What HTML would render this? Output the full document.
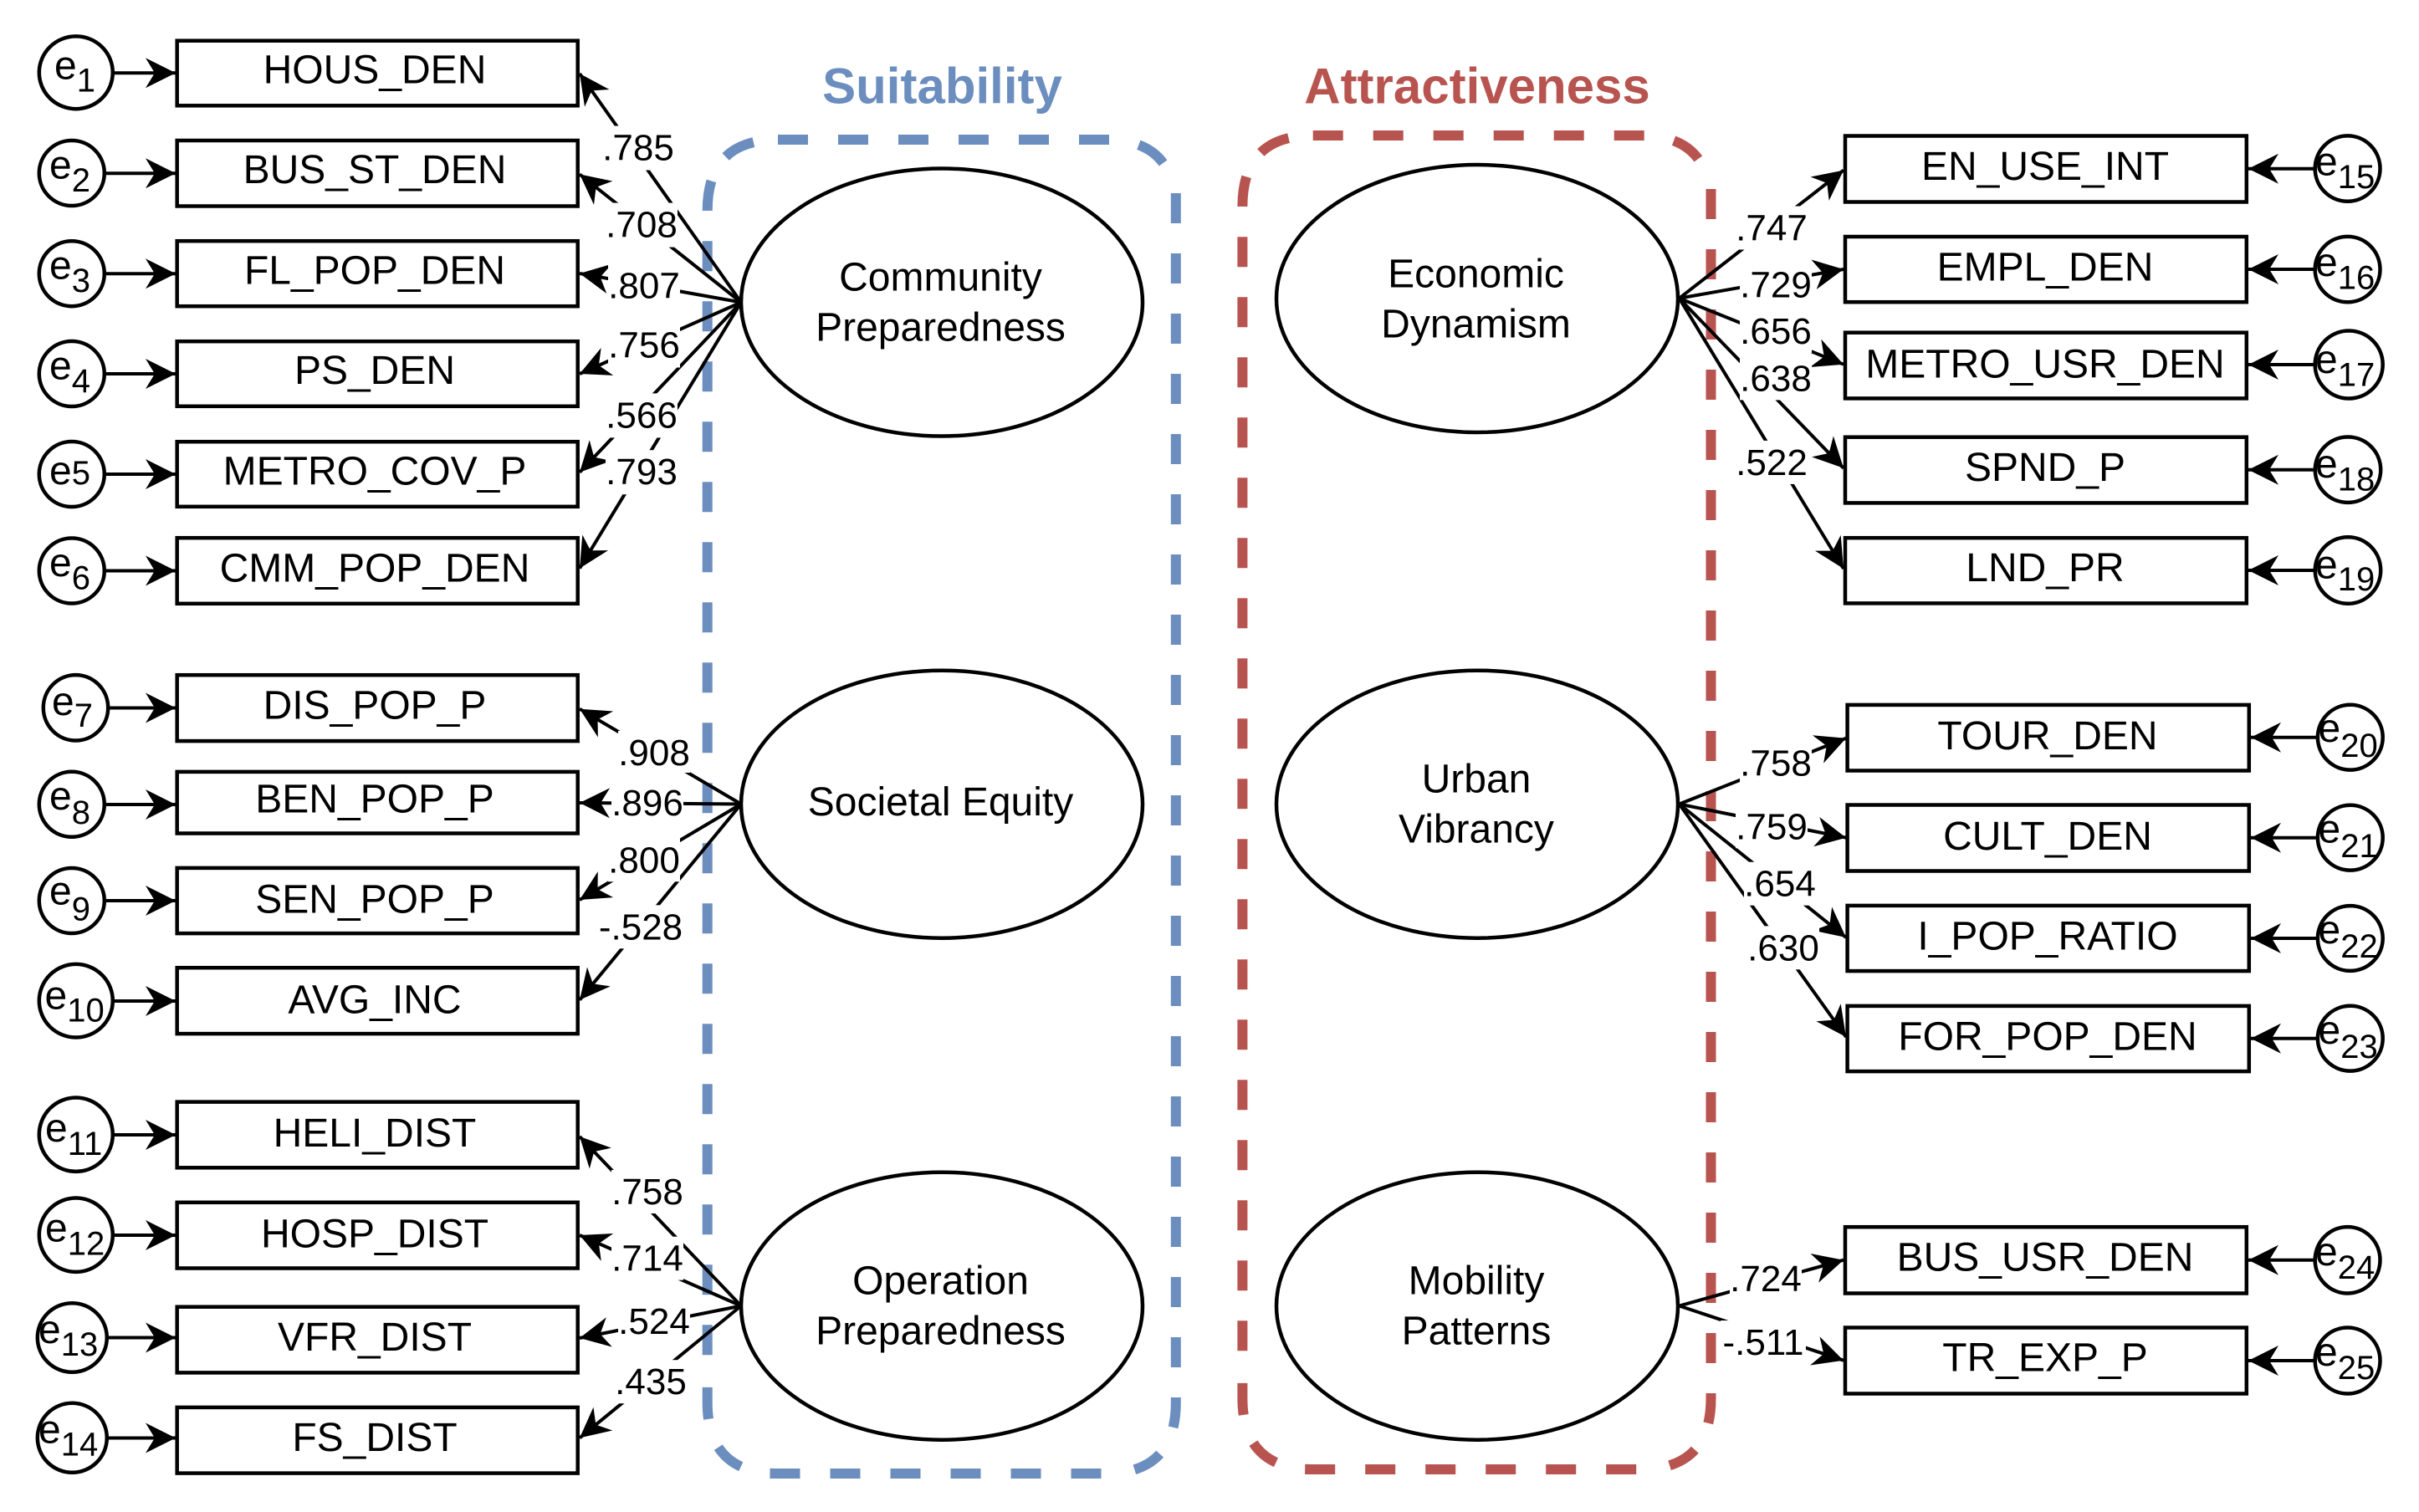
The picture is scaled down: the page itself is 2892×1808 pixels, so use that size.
<!DOCTYPE html>
<html lang="en">
<head>
<meta charset="utf-8">
<title>Suitability and Attractiveness SEM diagram</title>
<style>
html,body{margin:0;padding:0;background:#fff}
svg{display:block}
text{font-family:"Liberation Sans",Arial,sans-serif;fill:#000}
.b{font-size:48px;text-anchor:middle}
.l{font-size:44px;text-anchor:middle}
.e{font-size:48px}
.s{font-size:40px}
.r{fill:#fff;stroke:#000;stroke-width:4.5}
.c{fill:#fff;stroke:#000;stroke-width:4.5}
.ln line{stroke:#000;stroke-width:4;marker-end:url(#a)}
.bg rect{fill:#fff}
</style>
</head>
<body>
<svg xmlns="http://www.w3.org/2000/svg" width="2892" height="1808" viewBox="0 0 2892 1808">
<defs>
<marker id="a" markerUnits="userSpaceOnUse" markerWidth="40" markerHeight="40" refX="37" refY="20" orient="auto"><path d="M1 2 L37 20 L1 38 L12 20z" fill="#000"/></marker>
<g id="frame" fill="none" stroke-width="12">
<path d="M845.7 252 Q845.7 167 930 167" stroke-dasharray="36 34 38 200"/>
<path d="M930 167 H1326" stroke-dasharray="36 36"/>
<path d="M1322 167 Q1405.8 167 1405.8 252" stroke-dasharray="0 40 37 200"/>
<path d="M1405.8 231 V1636" stroke-dasharray="36 36"/>
<path d="M1405.8 1671 V1677 Q1405.8 1762 1321 1762" stroke-dasharray="36 36 36 200"/>
<path d="M1316.5 1762 H920" stroke-dasharray="36 36"/>
<path d="M930.7 1762 Q845.7 1762 845.7 1677 V1656" stroke-dasharray="10 36 36 36 38 100"/>
<path d="M845.7 1620.3 V288" stroke-dasharray="36 36"/>
</g>
</defs>

<use href="#frame" stroke="#6c8ebf"/>
<use href="#frame" stroke="#b85450" transform="translate(639.7 -5)"/>

<text x="1126.5" y="123.5" font-size="60" font-weight="bold" text-anchor="middle" style="fill:#6c8ebf">Suitability</text>
<text x="1766" y="123.3" font-size="60" font-weight="bold" text-anchor="middle" style="fill:#b85450">Attractiveness</text>

<!-- left boxes -->
<g>
<rect class="r" x="211.7" y="48.7" width="479" height="77.6"/>
<rect class="r" x="211.7" y="168" width="479" height="78.5"/>
<rect class="r" x="211.7" y="288.2" width="479" height="78"/>
<rect class="r" x="211.7" y="408.2" width="479" height="77.6"/>
<rect class="r" x="211.7" y="528.2" width="479" height="77.6"/>
<rect class="r" x="211.7" y="643.2" width="479" height="78.6"/>
<rect class="r" x="211.7" y="807.2" width="479" height="78.9"/>
<rect class="r" x="211.7" y="922.9" width="479" height="73.6"/>
<rect class="r" x="211.7" y="1037.9" width="479" height="78.2"/>
<rect class="r" x="211.7" y="1157.2" width="479" height="78.9"/>
<rect class="r" x="211.7" y="1317.6" width="479" height="78.7"/>
<rect class="r" x="211.7" y="1437.8" width="479" height="78.7"/>
<rect class="r" x="211.7" y="1562.7" width="479" height="78.7"/>
<rect class="r" x="211.7" y="1682.9" width="479" height="78.7"/>
</g>
<!-- right boxes -->
<g>
<rect class="r" x="2216" y="162.5" width="0" height="0"/>
<rect class="r" x="2206" y="162.5" width="479.8" height="79"/>
<rect class="r" x="2206" y="283" width="479.8" height="78.2"/>
<rect class="r" x="2206" y="397.7" width="479.8" height="78.7"/>
<rect class="r" x="2206" y="522.7" width="479.8" height="78.7"/>
<rect class="r" x="2206" y="643.2" width="479.8" height="78.2"/>
<rect class="r" x="2208.6" y="842.9" width="480.2" height="78.6"/>
<rect class="r" x="2208.6" y="962.5" width="480.2" height="79"/>
<rect class="r" x="2208.6" y="1082.9" width="480.2" height="78.2"/>
<rect class="r" x="2208.6" y="1202.9" width="480.2" height="78.2"/>
<rect class="r" x="2206" y="1467.2" width="479.8" height="79.3"/>
<rect class="r" x="2206" y="1587.5" width="479.8" height="79"/>
</g>

<!-- error circles -->
<g>
<ellipse class="c" cx="90.8" cy="86.8" rx="44" ry="43.4"/>
<ellipse class="c" cx="85.8" cy="207" rx="39" ry="39"/>
<ellipse class="c" cx="85.8" cy="327.2" rx="39" ry="39"/>
<ellipse class="c" cx="85.8" cy="447" rx="39" ry="39"/>
<ellipse class="c" cx="85.8" cy="567" rx="39" ry="39"/>
<ellipse class="c" cx="85.8" cy="682.5" rx="39" ry="39"/>
<ellipse class="c" cx="90.5" cy="846.3" rx="38.7" ry="39.2"/>
<ellipse class="c" cx="85.8" cy="961.8" rx="39" ry="39"/>
<ellipse class="c" cx="85.8" cy="1077" rx="39" ry="39"/>
<ellipse class="c" cx="90.8" cy="1196.7" rx="44" ry="43.8"/>
<ellipse class="c" cx="90.8" cy="1356.7" rx="44" ry="44.2"/>
<ellipse class="c" cx="90.8" cy="1476.7" rx="44" ry="44.2"/>
<ellipse class="c" cx="86.3" cy="1599.5" rx="41.5" ry="41.3"/>
<ellipse class="c" cx="86.3" cy="1719.3" rx="41.5" ry="41.5"/>
<ellipse class="c" cx="2806.6" cy="201.6" rx="38.9" ry="39.2"/>
<ellipse class="c" cx="2806.6" cy="322.1" rx="38.9" ry="39.2"/>
<ellipse class="c" cx="2808.2" cy="436" rx="40.5" ry="40.5"/>
<ellipse class="c" cx="2807" cy="561.7" rx="39.2" ry="39.2"/>
<ellipse class="c" cx="2807" cy="682" rx="39.2" ry="39.8"/>
<ellipse class="c" cx="2809.8" cy="881.7" rx="38.9" ry="38.9"/>
<ellipse class="c" cx="2809.8" cy="1001.7" rx="38.9" ry="38.9"/>
<ellipse class="c" cx="2809.8" cy="1122" rx="38.9" ry="38.9"/>
<ellipse class="c" cx="2809.8" cy="1241.7" rx="38.9" ry="38.9"/>
<ellipse class="c" cx="2806.6" cy="1506.8" rx="38.9" ry="39.7"/>
<ellipse class="c" cx="2806.6" cy="1627" rx="38.9" ry="39.5"/>
</g>

<!-- arrows -->
<g class="ln">
<line x1="137" y1="87.3" x2="210" y2="87.3"/>
<line x1="127" y1="207.3" x2="210" y2="207.3"/>
<line x1="127" y1="327.3" x2="210" y2="327.3"/>
<line x1="127" y1="447" x2="210" y2="447"/>
<line x1="127" y1="567" x2="210" y2="567"/>
<line x1="127" y1="682.5" x2="210" y2="682.5"/>
<line x1="131" y1="846.5" x2="210" y2="846.5"/>
<line x1="127" y1="962" x2="210" y2="962"/>
<line x1="127" y1="1077" x2="210" y2="1077"/>
<line x1="137" y1="1197" x2="210" y2="1197"/>
<line x1="137" y1="1357" x2="210" y2="1357"/>
<line x1="137" y1="1477" x2="210" y2="1477"/>
<line x1="130" y1="1599.5" x2="210" y2="1599.5"/>
<line x1="130" y1="1719.5" x2="210" y2="1719.5"/>

<line x1="2766" y1="201.8" x2="2688" y2="201.8"/>
<line x1="2766" y1="322" x2="2688" y2="322"/>
<line x1="2766" y1="436" x2="2688" y2="436"/>
<line x1="2766" y1="561.7" x2="2688" y2="561.7"/>
<line x1="2766" y1="682" x2="2688" y2="682"/>
<line x1="2769" y1="881.7" x2="2691" y2="881.7"/>
<line x1="2769" y1="1001.7" x2="2691" y2="1001.7"/>
<line x1="2769" y1="1122" x2="2691" y2="1122"/>
<line x1="2769" y1="1241.7" x2="2691" y2="1241.7"/>
<line x1="2766" y1="1506.8" x2="2688" y2="1506.8"/>
<line x1="2766" y1="1627" x2="2688" y2="1627"/>

<line x1="886" y1="361.5" x2="693" y2="88"/>
<line x1="886" y1="361.5" x2="693" y2="208.4"/>
<line x1="886" y1="361.5" x2="693" y2="327"/>
<line x1="886" y1="361.5" x2="693" y2="447"/>
<line x1="886" y1="361.5" x2="693" y2="564.7"/>
<line x1="886" y1="361.5" x2="693" y2="679.6"/>

<line x1="886" y1="961.5" x2="693" y2="847.7"/>
<line x1="886" y1="961.5" x2="693" y2="960"/>
<line x1="886" y1="961.5" x2="693" y2="1076"/>
<line x1="886" y1="961.5" x2="693" y2="1195.7"/>

<line x1="886" y1="1561.5" x2="693" y2="1359"/>
<line x1="886" y1="1561.5" x2="693" y2="1477"/>
<line x1="886" y1="1561.5" x2="693" y2="1600"/>
<line x1="886" y1="1561.5" x2="693" y2="1719.4"/>

<line x1="2007.6" y1="356.7" x2="2204" y2="203.6"/>
<line x1="2007.6" y1="356.7" x2="2204" y2="322"/>
<line x1="2007.6" y1="356.7" x2="2204" y2="435.7"/>
<line x1="2007.6" y1="356.7" x2="2204" y2="559.8"/>
<line x1="2007.6" y1="356.7" x2="2204" y2="680"/>

<line x1="2007.6" y1="961.5" x2="2207" y2="882.7"/>
<line x1="2007.6" y1="961.5" x2="2207" y2="1001.7"/>
<line x1="2007.6" y1="961.5" x2="2207" y2="1121"/>
<line x1="2007.6" y1="961.5" x2="2207" y2="1240"/>

<line x1="2007.6" y1="1561.5" x2="2204" y2="1506.7"/>
<line x1="2007.6" y1="1561.5" x2="2204" y2="1626.7"/>
</g>

<!-- ellipses -->
<ellipse class="c" cx="1126" cy="361.5" rx="240" ry="160"/>
<ellipse class="c" cx="1126" cy="961.7" rx="240" ry="160"/>
<ellipse class="c" cx="1126" cy="1561.7" rx="240" ry="160"/>
<ellipse class="c" cx="1766" cy="357" rx="240" ry="160"/>
<ellipse class="c" cx="1766" cy="961.7" rx="240" ry="160"/>
<ellipse class="c" cx="1766" cy="1561.7" rx="240" ry="160"/>

<!-- label backgrounds -->
<g class="bg">
<rect x="720" y="150.5" width="86" height="53"/>
<rect x="724" y="242.6" width="86" height="53"/>
<rect x="727" y="315.3" width="86" height="53"/>
<rect x="727" y="386.5" width="86" height="53"/>
<rect x="724" y="470.4" width="86" height="53"/>
<rect x="724" y="538.2" width="86" height="53"/>
<rect x="739" y="874" width="86" height="50"/>
<rect x="731" y="934" width="86" height="52"/>
<rect x="727" y="1002.3" width="86" height="52"/>
<rect x="715" y="1082.3" width="102" height="52"/>
<rect x="731" y="1399" width="86" height="52"/>
<rect x="731" y="1478.7" width="86" height="52"/>
<rect x="739" y="1553.8" width="86" height="52"/>
<rect x="735" y="1626.2" width="86" height="52"/>
<rect x="2075" y="246.5" width="86" height="52"/>
<rect x="2080" y="314.4" width="86" height="52"/>
<rect x="2080" y="370" width="86" height="52"/>
<rect x="2080" y="426.4" width="86" height="52"/>
<rect x="2075" y="526.9" width="86" height="52"/>
<rect x="2080" y="886.7" width="86" height="52"/>
<rect x="2075" y="962.3" width="86" height="52"/>
<rect x="2085" y="1030.7" width="86" height="52"/>
<rect x="2089" y="1107.3" width="86" height="52"/>
<rect x="2068" y="1503" width="86" height="52"/>
<rect x="2057" y="1579" width="102" height="52"/>
</g>

<!-- labels -->
<g>
<text class="l" x="763" y="191.5">.785</text>
<text class="l" x="767" y="283.6">.708</text>
<text class="l" x="770" y="356.3">.807</text>
<text class="l" x="770" y="427.5">.756</text>
<text class="l" x="767" y="511.4">.566</text>
<text class="l" x="767" y="579.2">.793</text>
<text class="l" x="782" y="915">.908</text>
<text class="l" x="774" y="975">.896</text>
<text class="l" x="770" y="1043.3">.800</text>
<text class="l" x="766" y="1123.3">-.528</text>
<text class="l" x="774" y="1440">.758</text>
<text class="l" x="774" y="1519.7">.714</text>
<text class="l" x="782" y="1594.8">.524</text>
<text class="l" x="778" y="1667.2">.435</text>
<text class="l" x="2118" y="287.5">.747</text>
<text class="l" x="2123" y="355.4">.729</text>
<text class="l" x="2123" y="411">.656</text>
<text class="l" x="2123" y="467.4">.638</text>
<text class="l" x="2118" y="567.9">.522</text>
<text class="l" x="2123" y="927.7">.758</text>
<text class="l" x="2118" y="1003.3">.759</text>
<text class="l" x="2128" y="1071.7">.654</text>
<text class="l" x="2132" y="1148.3">.630</text>
<text class="l" x="2111" y="1544">.724</text>
<text class="l" x="2108" y="1620">-.511</text>
</g>

<!-- box text -->
<g>
<text class="b" x="448" y="99.4">HOUS_DEN</text>
<text class="b" x="448" y="219">BUS_ST_DEN</text>
<text class="b" x="448" y="339.3">FL_POP_DEN</text>
<text class="b" x="448" y="459">PS_DEN</text>
<text class="b" x="448" y="579.3">METRO_COV_P</text>
<text class="b" x="448" y="695.6">CMM_POP_DEN</text>
<text class="b" x="448" y="859.3">DIS_POP_P</text>
<text class="b" x="448" y="971.7">BEN_POP_P</text>
<text class="b" x="448" y="1091.7">SEN_POP_P</text>
<text class="b" x="448" y="1211.7">AVG_INC</text>
<text class="b" x="448" y="1371">HELI_DIST</text>
<text class="b" x="448" y="1491.5">HOSP_DIST</text>
<text class="b" x="448" y="1615">VFR_DIST</text>
<text class="b" x="448" y="1735.2">FS_DIST</text>
<text class="b" x="2445" y="215.2">EN_USE_INT</text>
<text class="b" x="2445" y="335.3">EMPL_DEN</text>
<text class="b" x="2445" y="451.3">METRO_USR_DEN</text>
<text class="b" x="2445" y="575">SPND_P</text>
<text class="b" x="2445" y="695">LND_PR</text>
<text class="b" x="2448" y="896">TOUR_DEN</text>
<text class="b" x="2448" y="1016">CULT_DEN</text>
<text class="b" x="2448" y="1135.7">I_POP_RATIO</text>
<text class="b" x="2448" y="1255.7">FOR_POP_DEN</text>
<text class="b" x="2445" y="1519.3">BUS_USR_DEN</text>
<text class="b" x="2445" y="1639.3">TR_EXP_P</text>
</g>

<!-- ellipse text -->
<g>
<text class="b" x="1124.5" y="347.3">Community</text>
<text class="b" x="1124.5" y="407.5">Preparedness</text>
<text class="b" x="1124.5" y="975">Societal Equity</text>
<text class="b" x="1124.5" y="1547.3">Operation</text>
<text class="b" x="1124.5" y="1607.3">Preparedness</text>
<text class="b" x="1764.5" y="343.3">Economic</text>
<text class="b" x="1764.5" y="403.3">Dynamism</text>
<text class="b" x="1765" y="947.3">Urban</text>
<text class="b" x="1765" y="1007.3">Vibrancy</text>
<text class="b" x="1765" y="1547.3">Mobility</text>
<text class="b" x="1765" y="1607.3">Patterns</text>
</g>

<!-- error labels -->
<g>
<text class="e" x="65" y="94.5">e<tspan class="s" dy="15">1</tspan></text>
<text class="e" x="59" y="213.3">e<tspan class="s" dy="15.5">2</tspan></text>
<text class="e" x="59" y="333.5">e<tspan class="s" dy="15.5">3</tspan></text>
<text class="e" x="59" y="453.5">e<tspan class="s" dy="15.5">4</tspan></text>
<text class="e" x="59" y="579">e<tspan class="s">5</tspan></text>
<text class="e" x="59" y="689">e<tspan class="s" dy="15.5">6</tspan></text>
<text class="e" x="62" y="855">e<tspan class="s" dy="14">7</tspan></text>
<text class="e" x="59" y="968">e<tspan class="s" dy="17">8</tspan></text>
<text class="e" x="59" y="1081.7">e<tspan class="s" dy="19">9</tspan></text>
<text class="e" x="53.5" y="1206.7">e<tspan class="s" dy="15">10</tspan></text>
<text class="e" x="54" y="1365">e<tspan class="s" dy="16">11</tspan></text>
<text class="e" x="54" y="1484.4">e<tspan class="s" dy="16">12</tspan></text>
<text class="e" x="46" y="1606">e<tspan class="s" dy="15">13</tspan></text>
<text class="e" x="46" y="1725.5">e<tspan class="s" dy="15">14</tspan></text>
<text class="e" x="2768" y="209.4">e<tspan class="s" dy="15.6">15</tspan></text>
<text class="e" x="2768" y="330">e<tspan class="s" dy="15.5">16</tspan></text>
<text class="e" x="2768" y="446">e<tspan class="s" dy="15.6">17</tspan></text>
<text class="e" x="2768" y="571">e<tspan class="s" dy="15.6">18</tspan></text>
<text class="e" x="2768" y="691.5">e<tspan class="s" dy="14.3">19</tspan></text>
<text class="e" x="2771.5" y="887">e<tspan class="s" dy="18">20</tspan></text>
<text class="e" x="2771.5" y="1007.3">e<tspan class="s" dy="17.7">21</tspan></text>
<text class="e" x="2771.5" y="1128">e<tspan class="s" dy="17">22</tspan></text>
<text class="e" x="2771.5" y="1248">e<tspan class="s" dy="17">23</tspan></text>
<text class="e" x="2768" y="1513">e<tspan class="s" dy="16">24</tspan></text>
<text class="e" x="2768" y="1633">e<tspan class="s" dy="16">25</tspan></text>
</g>
</svg>
</body>
</html>
